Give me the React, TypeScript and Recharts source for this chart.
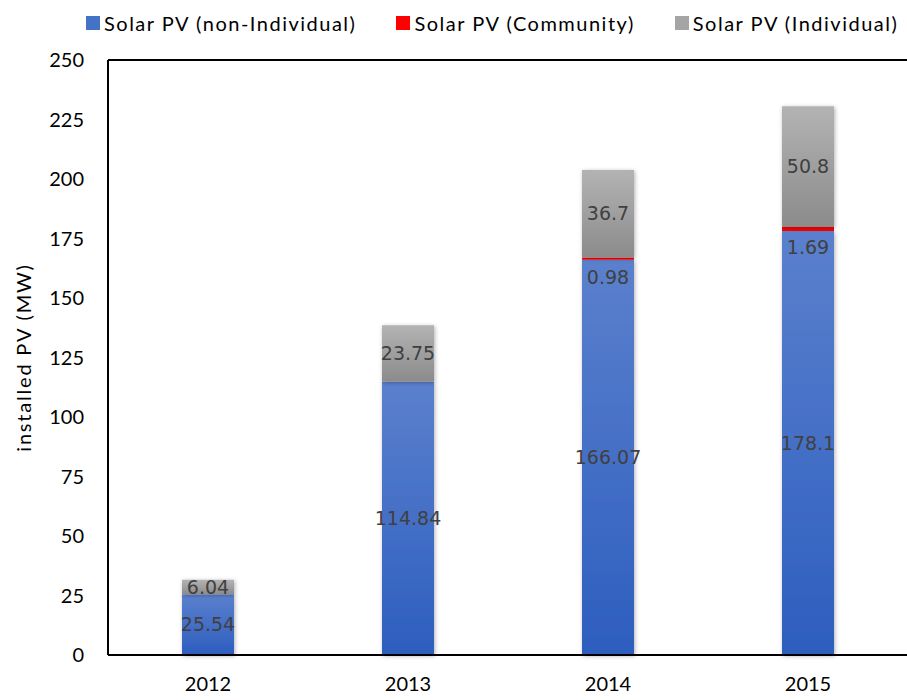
import React from 'react';
import {
  BarChart,
  Bar,
  XAxis,
  YAxis,
  Legend,
  LabelList,
  ReferenceLine,
} from 'recharts';

const years = ['2012', '2013', '2014', '2015'];
const nonIndividual = [25.54, 114.84, 166.07, 178.1];
const community = [0, 0, 0.98, 1.69];
const individual = [6.04, 23.75, 36.7, 50.8];
const yTicks = [0, 25, 50, 75, 100, 125, 150, 175, 200, 225, 250];

const seriesNames = ['Solar PV (non-Individual)', 'Solar PV (Community)', 'Solar PV (Individual)'];
const legendColors = ['#4472c4', '#ff0000', '#a5a5a5'];

const data = years.map((year, i) => ({
  year,
  nonIndividual: nonIndividual[i],
  community: community[i],
  individual: individual[i],
}));

const tickFont = { fontFamily: 'Lato', fontSize: 20, fill: '#000' };
const labelStyle = { fontFamily: 'DejaVu Sans', fontSize: 19, fill: '#404040' };

function ChartLegend() {
  return (
    <div
      style={{
        display: 'flex',
        height: 30,
        alignItems: 'center',
        fontFamily: 'Lato',
        fontSize: 20,
        letterSpacing: 1.5,
        color: '#000',
        whiteSpace: 'nowrap',
      }}
    >
      {seriesNames.map((name, i) => (
        <div key={name} style={{ display: 'flex', alignItems: 'center', marginLeft: i === 0 ? 86 : 40 }}>
          <span style={{ width: 14, height: 14, background: legendColors[i], marginRight: 4, display: 'inline-block' }} />
          {name}
        </div>
      ))}
    </div>
  );
}

// small labels for the thin red segment sit just below it
function CommunityLabel(props: any) {
  const { x, y, width, value } = props;
  if (!value) return null;
  return (
    <text x={x + width / 2} y={y + 21} textAnchor="middle" dominantBaseline="middle" {...labelStyle}>
      {value}
    </text>
  );
}

export default function App() {
  if (typeof document !== 'undefined') document.body.style.margin = '0';
  return (
    <BarChart
      width={907}
      height={700}
      data={data}
      margin={{ top: 30, right: -1, bottom: 0, left: 0 }}
      barSize={52}
    >
      <defs>
        <linearGradient id="blueFill" x1="0" y1="0" x2="0" y2="1">
          <stop offset="0%" stopColor="#5b80cd" />
          <stop offset="100%" stopColor="#2d5ebf" />
        </linearGradient>
        <linearGradient id="grayFill" x1="0" y1="0" x2="0" y2="1">
          <stop offset="0%" stopColor="#b3b3b3" />
          <stop offset="100%" stopColor="#8b8b8b" />
        </linearGradient>
        <filter id="barShadow" x="-20%" y="-20%" width="140%" height="140%">
          <feDropShadow dx="1" dy="1" stdDeviation="2" floodColor="#000" floodOpacity="0.3" />
        </filter>
      </defs>
      <Legend verticalAlign="top" align="left" content={() => <ChartLegend />} wrapperStyle={{ top: 8, left: 0 }} />
      <XAxis
        dataKey="year"
        tick={tickFont}
        tickLine={false}
        axisLine={{ stroke: '#000', strokeWidth: 2 }}
        tickMargin={16}
        height={45}
      />
      <YAxis
        domain={[0, 250]}
        ticks={yTicks}
        tick={tickFont}
        tickLine={false}
        axisLine={{ stroke: '#000', strokeWidth: 2 }}
        tickMargin={18}
        width={108}
        label={{
          value: 'installed PV (MW)',
          angle: -90,
          position: 'insideLeft',
          offset: 24,
          style: { fontFamily: 'Lato', fontSize: 20, letterSpacing: 1.8, fill: '#000', textAnchor: 'middle' },
        }}
      />
      <ReferenceLine y={250} stroke="#000" strokeWidth={2} />
      <Bar dataKey="nonIndividual" stackId="a" fill="url(#blueFill)" filter="url(#barShadow)" isAnimationActive={false}>
        <LabelList dataKey="nonIndividual" position="center" style={labelStyle} />
      </Bar>
      <Bar dataKey="community" stackId="a" fill="#ff0000" isAnimationActive={false}>
        <LabelList dataKey="community" content={CommunityLabel} />
      </Bar>
      <Bar dataKey="individual" stackId="a" fill="url(#grayFill)" filter="url(#barShadow)" isAnimationActive={false}>
        <LabelList dataKey="individual" position="center" style={labelStyle} />
      </Bar>
    </BarChart>
  );
}
